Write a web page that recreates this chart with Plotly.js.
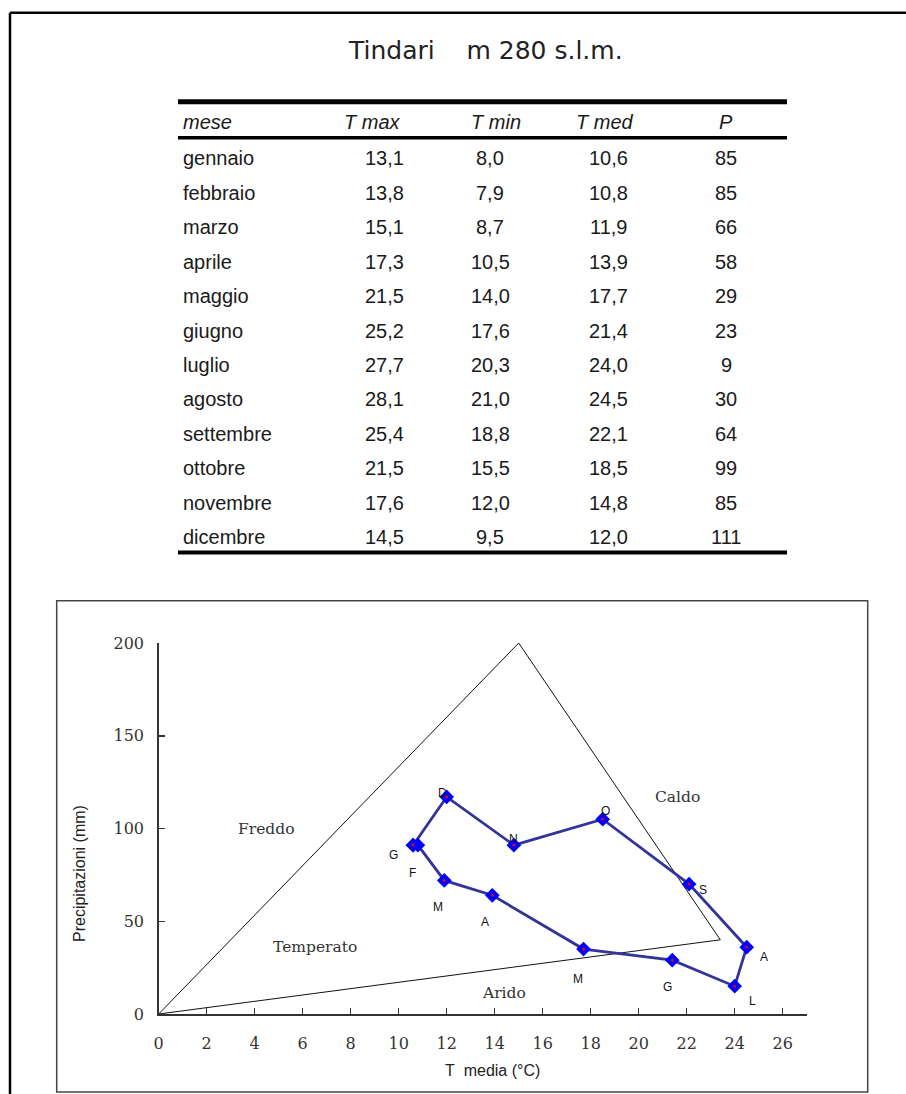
<!DOCTYPE html>
<html>
<head>
<meta charset="utf-8">
<script src="https://cdn.plot.ly/plotly-3.0.1.min.js"></script>
<style>
  html, body { margin: 0; padding: 0; background: #fff; }
  #chart { width: 906px; height: 1094px; }
</style>
</head>
<body>
<div id="chart"></div>
<script>
// ---------- DATA ----------
const stationTitle = "Tindari\u00a0\u00a0\u00a0 m 280 s.l.m.";
const headers = ["mese", "T max", "T min", "T med", "P"];
const months = ["gennaio", "febbraio", "marzo", "aprile", "maggio", "giugno",
                "luglio", "agosto", "settembre", "ottobre", "novembre", "dicembre"];
const tMax = [13.1, 13.8, 15.1, 17.3, 21.5, 25.2, 27.7, 28.1, 25.4, 21.5, 17.6, 14.5];
const tMin = [8.0, 7.9, 8.7, 10.5, 14.0, 17.6, 20.3, 21.0, 18.8, 15.5, 12.0, 9.5];
const tMed = [10.6, 10.8, 11.9, 13.9, 17.7, 21.4, 24.0, 24.5, 22.1, 18.5, 14.8, 12.0];
const precip = [85, 85, 66, 58, 29, 23, 9, 30, 64, 99, 85, 111];
// precipitation as plotted in the diagram
const precipPlotted = [91, 91, 72, 64, 35, 29, 15, 36, 70, 105, 91, 117];
const monthLetters = ["G", "F", "M", "A", "M", "G", "L", "A", "S", "O", "N", "D"];
// climate zone boundary (triangle) vertices
const zoneBoundaryT = [0, 15, 23.4, 0];
const zoneBoundaryP = [0, 200, 40, 0];
const zoneNames = ["Freddo", "Caldo", "Temperato", "Arido"];
const xTicks = [0, 2, 4, 6, 8, 10, 12, 14, 16, 18, 20, 22, 24, 26];
const yTicks = [0, 50, 100, 150, 200];

// ---------- LAYOUT HELPERS ----------
const W = 906, H = 1094;
const fx = px => px / W;
const fy = py => 1 - py / H;
const fmt = v => v.toFixed(1).replace(".", ",");

// label positions / offsets (layout, not data)
const zonePos = [[4.5, 100], [21.6, 117], [6.5, 36.3], [14.4, 11.2]];
const letterOffsets = [[-20, -10], [-5, -28], [-6, -27], [-7, -27], [-6, -30], [-5, -27],
                       [18, -15], [17, -10], [14, -6], [3, 8], [0, 6], [-4, 4]];
const colValueX = [181, 384, 490, 608, 726];
const colHeaderX = [181, 372, 496, 605, 726];

const sans = "Liberation Sans, Arial, sans-serif";
const serif = "DejaVu Serif, serif";

// ---------- TRACES ----------
const traces = [
  {
    type: "scatter", mode: "lines",
    x: zoneBoundaryT, y: zoneBoundaryP,
    line: { color: "#111", width: 1 },
    hoverinfo: "skip", showlegend: false
  },
  {
    type: "scatter", mode: "lines+markers",
    x: tMed.concat([tMed[0]]), y: precipPlotted.concat([precipPlotted[0]]),
    line: { color: "#333399", width: 2.8 },
    marker: { symbol: "diamond", size: 7, color: "#ff0000", line: { color: "#0000ff", width: 4 } },
    hoverinfo: "skip", showlegend: false, cliponaxis: false
  },
  { type: "scatter", x: [], y: [], xaxis: "x2", yaxis: "y2", showlegend: false, hoverinfo: "skip" }
];

// ---------- ANNOTATIONS ----------
const ann = [];
// title
ann.push({ xref: "paper", yref: "paper", x: fx(486), y: fy(50), text: stationTitle,
  showarrow: false, xanchor: "center", yanchor: "middle",
  font: { family: "DejaVu Sans, sans-serif", size: 25, color: "#222" } });

// table header
headers.forEach((h, c) => {
  ann.push({ xref: "paper", yref: "y2", x: fx(colHeaderX[c]), y: 0, yshift: 2,
    text: "<i>" + h + "</i>", showarrow: false,
    xanchor: c === 0 ? "left" : "center", yanchor: "middle",
    font: { family: sans, size: 20, color: "#1a1a1a" } });
});
// table body
months.forEach((m, i) => {
  const row = [m, fmt(tMax[i]), fmt(tMin[i]), fmt(tMed[i]), String(precip[i])];
  row.forEach((t, c) => {
    ann.push({ xref: "paper", yref: "y2", x: fx(colValueX[c]), y: i + 1,
      text: t, showarrow: false,
      xanchor: c === 0 ? "left" : "center", yanchor: "middle",
      font: { family: sans, size: 20, color: "#1a1a1a" } });
  });
});

// month letters near points
monthLetters.forEach((L, i) => {
  ann.push({ xref: "x", yref: "y", x: tMed[i], y: precipPlotted[i], text: L,
    showarrow: false, xanchor: "center", yanchor: "middle",
    xshift: letterOffsets[i][0], yshift: letterOffsets[i][1],
    font: { family: sans, size: 12, color: "#111" } });
});

// zone names
zoneNames.forEach((z, i) => {
  ann.push({ xref: "x", yref: "y", x: zonePos[i][0], y: zonePos[i][1], text: z,
    showarrow: false, xanchor: "center", yanchor: "middle",
    font: { family: serif, size: 15.5, color: "#333" } });
});

// axis titles
ann.push({ xref: "paper", yref: "paper", x: fx(492), y: fy(1070),
  text: "T\u00a0\u00a0media (°C)", showarrow: false, xanchor: "center", yanchor: "middle",
  font: { family: sans, size: 16, color: "#222" } });
ann.push({ xref: "paper", yref: "paper", x: fx(79), y: fy(874),
  text: "Precipitazioni (mm)", textangle: -90, showarrow: false,
  xanchor: "center", yanchor: "middle",
  font: { family: sans, size: 16, color: "#222" } });

// ---------- SHAPES ----------
const shapes = [
  // outer page frame (left + top edges)
  { type: "line", xref: "paper", yref: "paper", x0: fx(10), x1: fx(920), y0: fy(12.7), y1: fy(12.7),
    line: { color: "#000", width: 2.5 } },
  { type: "line", xref: "paper", yref: "paper", x0: fx(10), x1: fx(10), y0: fy(12.7), y1: fy(1110),
    line: { color: "#000", width: 2.5 } },
  // table rules
  { type: "line", xref: "paper", yref: "paper", x0: fx(178), x1: fx(787), y0: fy(101.7), y1: fy(101.7),
    line: { color: "#000", width: 5 } },
  { type: "line", xref: "paper", yref: "paper", x0: fx(178), x1: fx(787), y0: fy(137.7), y1: fy(137.7),
    line: { color: "#000", width: 3.5 } },
  { type: "line", xref: "paper", yref: "paper", x0: fx(178), x1: fx(787), y0: fy(552.5), y1: fy(552.5),
    line: { color: "#000", width: 4 } },
  // chart frame
  { type: "rect", xref: "paper", yref: "paper", x0: fx(56.7), x1: fx(867.7), y0: fy(600.7), y1: fy(1092),
    line: { color: "#444", width: 1.5 }, fillcolor: "rgba(0,0,0,0)" }
];

const axisCommon = {
  showgrid: false, zeroline: false, showline: true,
  linecolor: "#333", linewidth: 1.5,
  ticks: "inside", ticklen: 6, tickwidth: 1.5, tickcolor: "#333",
  tickfont: { family: serif, size: 16, color: "#333" }
};

const layout = {
  width: W, height: H,
  margin: { l: 0, r: 0, t: 0, b: 0, pad: 0 },
  paper_bgcolor: "#fff", plot_bgcolor: "rgba(0,0,0,0)",
  showlegend: false,
  xaxis: Object.assign({}, axisCommon, {
    domain: [fx(158.7), fx(806.7)], range: [0, 27],
    tickmode: "array", tickvals: xTicks, ticktext: xTicks.map(String),
    ticklabelstandoff: 14, anchor: "y"
  }),
  yaxis: Object.assign({}, axisCommon, {
    domain: [fy(1014), fy(643)], range: [0, 200],
    tickmode: "array", tickvals: yTicks, ticktext: yTicks.map(String),
    ticklabelstandoff: 10, anchor: "x"
  }),
  xaxis2: { domain: [0, 1], range: [0, 1], visible: false, anchor: "y2", fixedrange: true },
  yaxis2: { domain: [fy(554.1), fy(106.9)], range: [12.5, -0.5], visible: false, anchor: "x2", fixedrange: true },
  annotations: ann,
  shapes: shapes
};

Plotly.newPlot("chart", traces, layout, { staticPlot: true, displayModeBar: false });
</script>
</body>
</html>
